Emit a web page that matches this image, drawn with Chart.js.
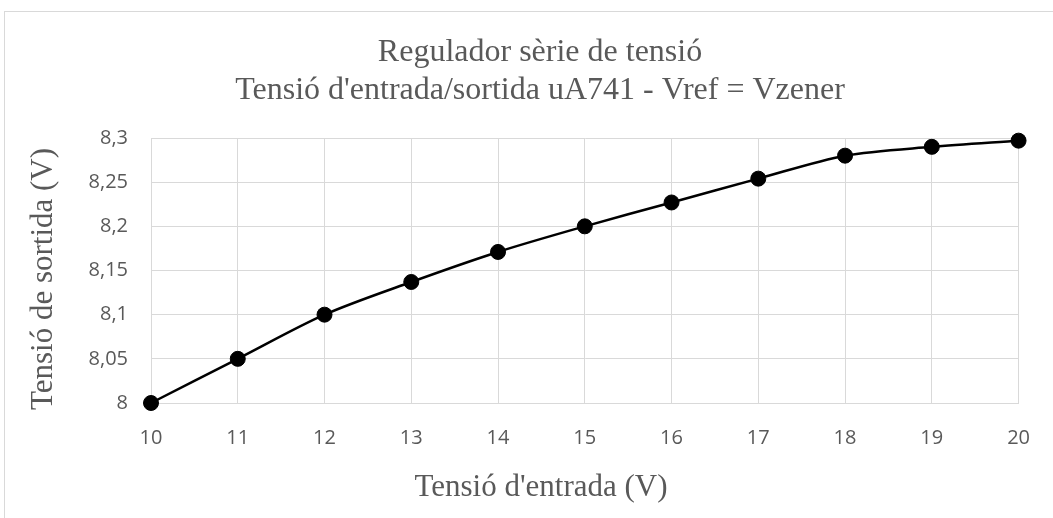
<!DOCTYPE html>
<html lang="ca">
<head>
    <meta charset="UTF-8">
    <title>Regulador sèrie de tensió</title>
    <script src="https://cdn.jsdelivr.net/npm/chart.js"></script>
    <style>
        body { margin: 0; background: #fff; overflow: hidden; }
        #frame {
            position: absolute; left: 4px; top: 11px;
            width: 1200px; height: 800px;
            border: 1px solid #d9d9d9;
        }
        #myChart { position: absolute; left: 0; top: 0; }
    </style>
</head>
<body>
    <div id="frame"></div>
    <canvas id="myChart" width="1053" height="518"></canvas>

    <script>
        // Input voltage (V) and measured output voltage (V)
        const vEntrada = [10, 11, 12, 13, 14, 15, 16, 17, 18, 19, 20];
        const vSortida = [8, 8.05, 8.1, 8.137, 8.171, 8.2, 8.227, 8.254, 8.28, 8.29, 8.297];

        const titleLines = ['Regulador sèrie de tensió', "Tensió d'entrada/sortida uA741 - Vref = Vzener"];
        const xTitle = "Tensió d'entrada (V)";
        const yTitle = 'Tensió de sortida (V)';

        const grey = '#595959';
        const gridGrey = '#d9d9d9';
        const serif = '"Liberation Serif", "Times New Roman", serif';

        // titles are centred on the outer frame, not on the plot area
        const frameTitles = {
            id: 'frameTitles',
            afterDraw(chart) {
                const ctx = chart.ctx;
                ctx.save();
                ctx.fillStyle = grey;
                ctx.textAlign = 'center';
                ctx.textBaseline = 'alphabetic';
                ctx.font = '32px ' + serif;
                ctx.fillText(titleLines[0], 540, 61);
                ctx.fillText(titleLines[1], 540, 99);
                ctx.font = '31px ' + serif;
                ctx.fillText(xTitle, 541, 496);
                ctx.translate(52, 279);
                ctx.rotate(-Math.PI / 2);
                ctx.fillText(yTitle, 0, 0);
                ctx.restore();
            }
        };

        const ctx = document.getElementById('myChart').getContext('2d');
        new Chart(ctx, {
            type: 'line',
            data: {
                datasets: [{
                    data: vEntrada.map((x, i) => ({ x: x, y: vSortida[i] })),
                    borderColor: '#000',
                    borderWidth: 2.5,
                    backgroundColor: '#000',
                    pointBackgroundColor: '#000',
                    pointBorderColor: '#000',
                    pointRadius: 7.5,
                    pointBorderWidth: 1,
                    tension: 0.3,
                    clip: false,
                    fill: false
                }]
            },
            options: {
                responsive: false,
                animation: false,
                layout: { padding: { top: 138, right: 34, bottom: 0, left: 0 } },
                plugins: {
                    legend: { display: false },
                    title: { display: false },
                    tooltip: { enabled: false }
                },
                scales: {
                    x: {
                        type: 'linear',
                        min: 10,
                        max: 20,
                        ticks: {
                            stepSize: 1,
                            padding: 23,
                            color: grey,
                            font: { family: '"Open Sans"', size: 20 }
                        },
                        grid: { color: gridGrey, lineWidth: 1, drawTicks: false },
                        border: { color: gridGrey },
                        afterFit: (scale) => { scale.height = 115; }
                    },
                    y: {
                        min: 8,
                        max: 8.3,
                        ticks: {
                            stepSize: 0.05,
                            padding: 23,
                            color: grey,
                            font: { family: '"Open Sans"', size: 20 },
                            callback: (value) => String(Math.round(value * 100) / 100).replace('.', ',')
                        },
                        grid: { color: gridGrey, lineWidth: 1, drawTicks: false },
                        border: { color: gridGrey },
                        afterFit: (scale) => { scale.width = 151; }
                    }
                }
            },
            plugins: [frameTitles]
        });
    </script>
</body>
</html>
